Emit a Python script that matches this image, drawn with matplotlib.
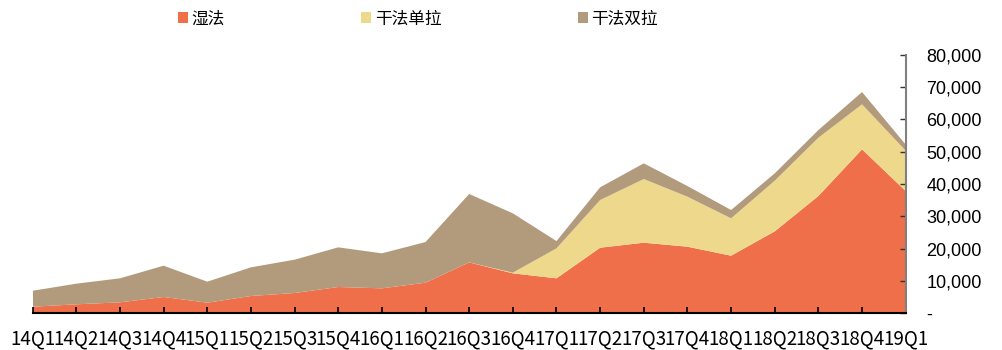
import matplotlib
matplotlib.use('Agg')
import matplotlib.pyplot as plt
from matplotlib.ticker import FuncFormatter

# DATA
quarters = ['14Q1', '14Q2', '14Q3', '14Q4', '15Q1', '15Q2', '15Q3', '15Q4',
            '16Q1', '16Q2', '16Q3', '16Q4', '17Q1', '17Q2', '17Q3', '17Q4',
            '18Q1', '18Q2', '18Q3', '18Q4', '19Q1']
wet = [1950, 2690, 3310, 4960, 3200, 5270, 6200, 8060, 7650, 9400, 15700,
       12300, 10750, 20250, 21800, 20560, 17770, 25320, 36270, 50740, 37820]
dry_single = [0, 0, 0, 0, 0, 0, 0, 0, 0, 0, 0,
              200, 9300, 14780, 19740, 15500, 11580, 15700, 18080, 13960, 12500]
dry_double = [4950, 6400, 7440, 9710, 6510, 8890, 10330, 12300, 10850, 12600, 21200,
              18400, 2250, 3940, 4860, 3310, 2580, 2280, 2380, 3810, 1900]
names = ['湿法', '干法单拉', '干法双拉']
colors = ['#EE6F4A', '#EED88C', '#B29B7C']

cjk = ['Noto Sans CJK SC', 'DejaVu Sans']

fig = plt.figure(figsize=(10.02, 3.5), dpi=100)
ax = fig.add_axes([0.0326, 0.1057, 0.8713, 0.7372])

x = list(range(len(quarters)))
polys = ax.stackplot(x, wet, dry_single, dry_double, colors=colors, labels=names, linewidth=0)

ax.set_xlim(0, len(quarters) - 1)
ax.set_ylim(0, 80000)
ax.set_xticks(x)
ax.set_xticklabels(quarters, family=cjk, fontsize=13.5)
ax.set_yticks(range(0, 80001, 10000))
ax.yaxis.tick_right()
ax.yaxis.set_major_formatter(FuncFormatter(lambda v, p: '-' if v == 0 else '{:,.0f}'.format(v)))
for lab in ax.get_yticklabels():
    lab.set_family('Liberation Sans')
    lab.set_fontsize(13)

ax.spines['left'].set_visible(False)
ax.spines['top'].set_visible(False)
ax.spines['right'].set_color('#808080')
ax.spines['right'].set_linewidth(1.5)
ax.spines['bottom'].set_color('black')
ax.spines['bottom'].set_linewidth(1.5)
ax.tick_params(axis='x', direction='in', length=4, width=1.2, pad=11, color='black')
ax.tick_params(axis='y', direction='in', length=4, width=1, pad=15, color='#333333')

fig.legend(polys, names, loc='center', bbox_to_anchor=(0.417, 0.946), ncol=3,
           frameon=False, handlelength=0.6, handleheight=0.6, handletextpad=0.2,
           columnspacing=8.2, prop={'family': cjk, 'size': 12})

fig.savefig('out.png', dpi=100)
